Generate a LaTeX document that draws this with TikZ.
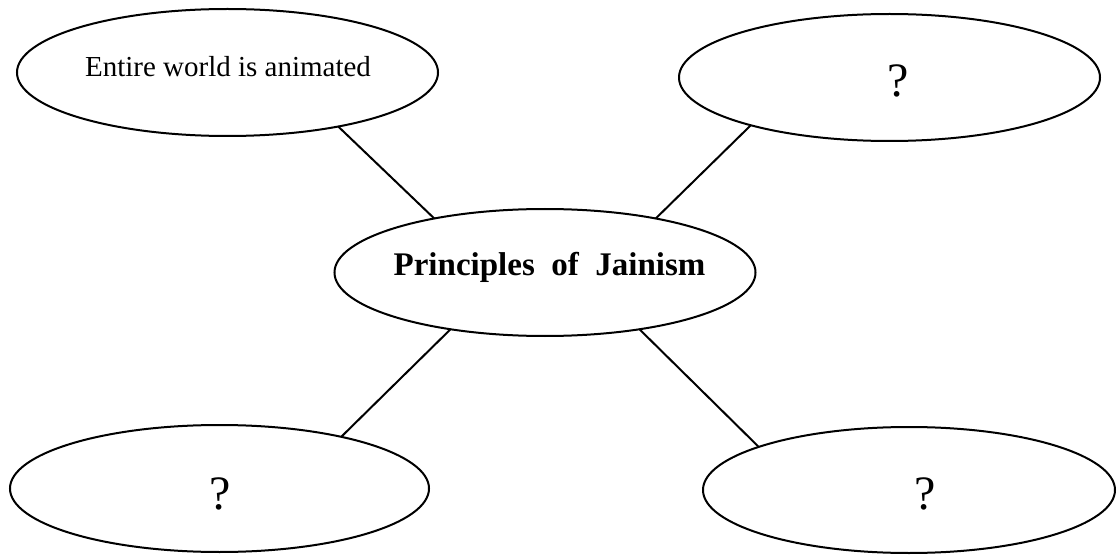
\documentclass[tikz,border=0pt]{standalone}
\usepackage{fontspec}
\setmainfont{Liberation Serif}
\usetikzlibrary{shapes.geometric}
\begin{document}
\begin{tikzpicture}[x=1pt,y=-1pt,
  oval/.style={draw, ellipse, line width=2pt, minimum width=421pt, minimum height=127pt, inner sep=0pt, outer sep=0pt},
  link/.style={line width=2pt},
  small/.style={anchor=base, inner sep=0pt, font=\fontsize{29}{34}\selectfont},
  qmark/.style={anchor=base, inner sep=0pt, font=\fontsize{48}{56}\selectfont},
  title/.style={anchor=base, inner sep=0pt, font=\fontsize{33}{40}\selectfont\bfseries}]
\useasboundingbox (0,0) rectangle (1117,556);
\node[oval] (tl) at (227.5,72.5) {};
\node[oval] (tr) at (889.5,77.5) {};
\node[oval] (c) at (545,272.5) {};
\node[oval, minimum width=419pt] (bl) at (219.5,488.5) {};
\node[oval, minimum width=412pt, minimum height=126pt] (br) at (909,490) {};
\node[small] (tltext) at (228,77) {Entire world is animated};
\node[qmark] (trtext) at (898,97) {?};
\node[title] (ctext) at (549.5,276) {Principles~ of~ Jainism};
\node[qmark] (bltext) at (220,509) {?};
\node[qmark] (brtext) at (925,509) {?};
\draw[link] (tl.-26.5) -- (c.154.8);
\draw[link] (tr.-161.6) -- (c.26.4);
\draw[link] (c.211.6) -- (bl.23);
\draw[link] (c.-31.7) -- (br.164.4);
\end{tikzpicture}
\end{document}
